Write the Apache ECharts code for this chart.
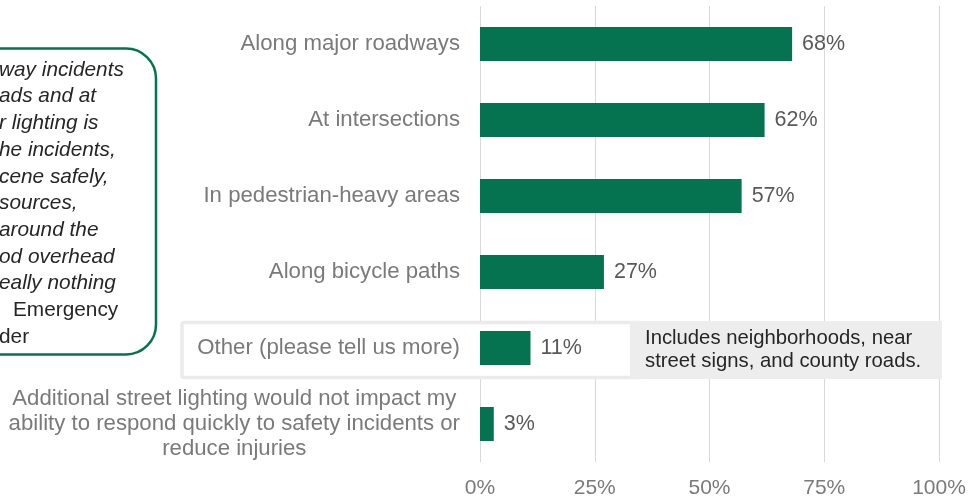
<!DOCTYPE html>
<html>
<head>
<meta charset="utf-8">
<style>
  html, body { margin: 0; padding: 0; background: #fff; }
  #chart { width: 972px; height: 499px; }
</style>
<script src="https://cdn.jsdelivr.net/npm/echarts@6/dist/echarts.min.js"></script>
</head>
<body>
<div id="chart"></div>
<script>
const categories = [
  'Along major roadways',
  'At intersections',
  'In pedestrian-heavy areas',
  'Along bicycle paths',
  'Other (please tell us more)',
  'Additional street lighting would not impact my\nability to respond quickly to safety incidents or\nreduce injuries'
]
const values = [68, 62, 57, 27, 11, 3]
const xTicks = [0, 25, 50, 75, 100]

// quote box on the left, cut off by the page edge
const quoteLines = [
  'way incidents',
  'ads and at',
  'r lighting is',
  'he incidents,',
  'cene safely,',
  'sources,',
  'around the',
  'od overhead',
  'eally nothing'
]
const quoteSource = ['Emergency', 'der']
const otherNote = 'Includes neighborhoods, near\nstreet signs, and county roads.'

const green = '#05734f'
const font = '"Liberation Sans", Arial, sans-serif'

const quoteTexts = quoteLines.map((t, i) => ({
  type: 'text',
  z: 1,
  x: -1,
  y: 70 + i * 26.7,
  style: {
    text: t,
    fill: '#262626',
    font: 'italic 20.8px ' + font,
    verticalAlign: 'middle'
  }
}))
quoteSource.forEach((t, i) => {
  quoteTexts.push({
    type: 'text',
    z: 1,
    x: i === 0 ? 13 : -1,
    y: 70 + (quoteLines.length + i) * 26.7,
    style: {
      text: t,
      fill: '#262626',
      font: '20.8px ' + font,
      verticalAlign: 'middle'
    }
  })
})

const chart = echarts.init(document.getElementById('chart'))
chart.setOption({
  animation: false,
  grid: {
    left: 480,
    right: 33,
    top: 6,
    bottom: 37
  },
  xAxis: {
    type: 'value',
    min: xTicks[0],
    max: xTicks[xTicks.length - 1],
    interval: 25,
    z: 0,
    axisLine: { show: false },
    axisTick: { show: false },
    splitLine: { lineStyle: { color: '#d9d9d9', width: 1 } },
    axisLabel: {
      formatter: '{value}%',
      color: '#7a7a7a',
      fontSize: 21,
      fontFamily: font,
      margin: 16
    }
  },
  yAxis: {
    type: 'category',
    data: categories,
    inverse: true,
    z: 3,
    axisLine: { show: false },
    axisTick: { show: false },
    axisLabel: {
      color: '#7a7a7a',
      fontSize: 22.2,
      fontFamily: font,
      margin: 20,
      lineHeight: 25,
      formatter: v => v.split('\n').map(s => '{c|' + s + '}').join('\n'),
      rich: {
        c: {
          align: 'center',
          color: '#7a7a7a',
          fontSize: 22.2,
          fontFamily: font,
          lineHeight: 25
        }
      }
    }
  },
  series: [{
    type: 'bar',
    data: values,
    barWidth: 34,
    z: 2,
    itemStyle: { color: green },
    label: {
      show: true,
      position: 'right',
      distance: 10,
      formatter: '{c}%',
      color: '#595959',
      fontSize: 21.5,
      fontFamily: font
    }
  }],
  graphic: [
    {
      type: 'rect',
      z: 1,
      shape: { x: -40, y: 48.5, width: 196, height: 306, r: 30 },
      style: { fill: '#fff', stroke: green, lineWidth: 2.5 }
    },
    ...quoteTexts,
    {
      type: 'rect',
      z: 1,
      shape: { x: 182, y: 322.5, width: 460, height: 55, r: 2 },
      style: { fill: '#fff', stroke: '#ebebeb', lineWidth: 3.5 }
    },
    {
      type: 'rect',
      z: 1,
      shape: { x: 630, y: 321, width: 312, height: 58 },
      style: { fill: '#ededed' }
    },
    {
      type: 'text',
      z: 1,
      x: 645,
      y: 350,
      style: {
        text: otherNote,
        fill: '#262626',
        font: '20.3px ' + font,
        lineHeight: 23,
        verticalAlign: 'middle'
      }
    }
  ]
})
</script>
</body>
</html>
